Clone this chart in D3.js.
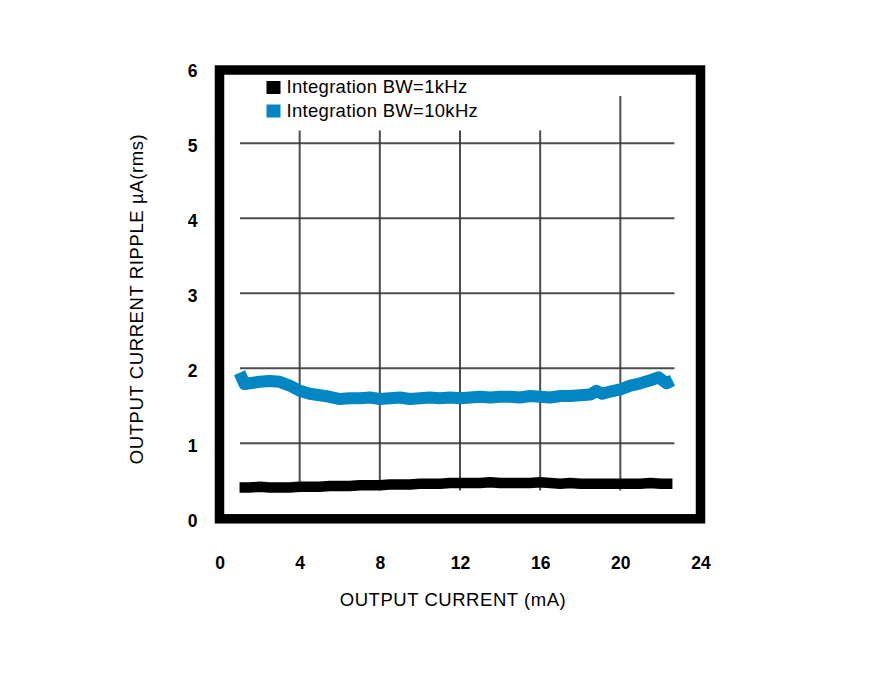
<!DOCTYPE html>
<html>
<head>
<meta charset="utf-8">
<script src="https://cdn.jsdelivr.net/npm/d3@7"></script>
<style>
  html, body { margin: 0; padding: 0; background: #fff; }
  svg { display: block; font-family: "Liberation Sans", Arial, sans-serif; }
</style>
</head>
<body>
<svg id="chart" width="872" height="691"></svg>
<script>
// ---- data ----
const xTicks = [0, 4, 8, 12, 16, 20, 24];
const yTicks = [0, 1, 2, 3, 4, 5, 6];
const xTitle = "OUTPUT CURRENT (mA)";
const yTitle = "OUTPUT CURRENT RIPPLE µA(rms)";
const seriesNames = ["Integration BW=1kHz", "Integration BW=10kHz"];
const seriesColors = ["#000000", "#0086c3"];

const currentX = [1.0, 1.5, 2.0, 2.5, 3.0, 3.5, 4.0, 4.5, 5.0, 5.5, 6.0, 6.5, 7.0, 7.5, 8.0, 8.5, 9.0, 9.5,
  10.0, 10.5, 11.0, 11.5, 12.0, 12.5, 13.0, 13.5, 14.0, 14.5, 15.0, 15.5, 16.0, 16.5, 17.0, 17.5, 18.0,
  18.5, 19.0, 19.5, 20.0, 20.5, 21.0, 21.5, 22.0, 22.6];

const ripple1k = [0.41, 0.41, 0.42, 0.41, 0.41, 0.41, 0.42, 0.42, 0.42, 0.43, 0.43, 0.43, 0.44, 0.44, 0.44,
  0.45, 0.45, 0.45, 0.46, 0.46, 0.46, 0.47, 0.47, 0.47, 0.47, 0.48, 0.47, 0.47, 0.47, 0.47, 0.48, 0.47,
  0.46, 0.47, 0.46, 0.46, 0.46, 0.46, 0.46, 0.46, 0.46, 0.47, 0.46, 0.46];

const xBlue = [1.0, 1.25, 1.5, 2.0, 2.5, 3.0, 3.5, 4.0, 4.5, 5.0, 5.5, 6.0, 6.5, 7.0, 7.5, 8.0, 8.5, 9.0, 9.5,
  10.0, 10.5, 11.0, 11.5, 12.0, 12.5, 13.0, 13.5, 14.0, 14.5, 15.0, 15.5, 16.0, 16.5, 17.0, 17.5, 18.0,
  18.5, 18.8, 19.1, 19.5, 20.0, 20.5, 21.0, 21.5, 21.9, 22.3, 22.6];
const ripple10k = [1.94, 1.79, 1.80, 1.82, 1.83, 1.82, 1.77, 1.70, 1.66, 1.64, 1.62, 1.59, 1.60, 1.60, 1.61,
  1.59, 1.60, 1.61, 1.59, 1.60, 1.61, 1.60, 1.61, 1.60, 1.61, 1.62, 1.61, 1.62, 1.62, 1.61, 1.63, 1.62,
  1.61, 1.63, 1.63, 1.64, 1.65, 1.70, 1.66, 1.69, 1.72, 1.77, 1.80, 1.84, 1.88, 1.80, 1.84];

// grid extents
const hGridX = [1.02, 22.7];
const vGridLines = [
  { x: 4, y0: 0.37, y1: 5.17 },
  { x: 8, y0: 0.37, y1: 5.17 },
  { x: 12, y0: 0.37, y1: 5.17 },
  { x: 16, y0: 0.37, y1: 5.17 },
  { x: 20, y0: 0.37, y1: 5.63 }
];

// ---- chart ----
const svg = d3.select("#chart");
const x = d3.scaleLinear().domain([0, 24]).range([219.5, 700.5]);
const y = d3.scaleLinear().domain([0, 6]).range([518.3, 68.3]);

// grid
const grid = svg.append("g").attr("stroke", "#3a3a3a").attr("stroke-width", 2).attr("stroke-opacity", 0.9);
yTicks.filter(v => v > 0 && v < 6).forEach(v => {
  grid.append("line").attr("x1", x(hGridX[0])).attr("x2", x(hGridX[1]))
    .attr("y1", y(v)).attr("y2", y(v));
});
vGridLines.forEach(g => {
  grid.append("line").attr("x1", x(g.x)).attr("x2", x(g.x))
    .attr("y1", y(g.y0)).attr("y2", y(g.y1));
});

// series
const line = d3.line().x(d => x(d[0])).y(d => y(d[1])).curve(d3.curveLinear);
svg.append("path")
  .datum(xBlue.map((v, i) => [v, ripple10k[i]]))
  .attr("d", line).attr("fill", "none").attr("stroke", seriesColors[1])
  .attr("stroke-width", 12).attr("stroke-linejoin", "round");
svg.append("path")
  .datum(currentX.map((v, i) => [v, ripple1k[i]]))
  .attr("d", line).attr("fill", "none").attr("stroke", seriesColors[0])
  .attr("stroke-width", 10.5).attr("stroke-linejoin", "round");

// frame
svg.append("rect")
  .attr("x", x(0)).attr("y", y(6) + 1.7)
  .attr("width", x(24) - x(0)).attr("height", y(0) - y(6) - 1.2)
  .attr("fill", "none").attr("stroke", "#000").attr("stroke-width", 9.5);

// axes (labels only)
const xAxis = d3.axisBottom(x).tickValues(xTicks).tickSize(0).tickPadding(0).tickFormat(d3.format("d"));
const gx = svg.append("g").attr("transform", "translate(0,557)").call(xAxis);
gx.select(".domain").remove();
gx.selectAll("text").attr("font-size", 17.5).attr("font-weight", "bold").attr("fill", "#000")
  .attr("font-family", "Liberation Sans, Arial, sans-serif");

const yAxis = d3.axisLeft(y).tickValues(yTicks).tickSize(0).tickPadding(0).tickFormat(d3.format("d"));
const gy = svg.append("g").attr("transform", "translate(197.5,2.5)").call(yAxis);
gy.select(".domain").remove();
gy.selectAll("text").attr("font-size", 17.5).attr("font-weight", "bold").attr("fill", "#000")
  .attr("font-family", "Liberation Sans, Arial, sans-serif");

// titles
svg.append("text").attr("x", 453).attr("y", 606).attr("text-anchor", "middle")
  .attr("font-size", 18.5).attr("letter-spacing", 0.55).attr("fill", "#000").text(xTitle);
svg.append("text").attr("transform", "translate(143,299) rotate(-90)").attr("text-anchor", "middle")
  .attr("font-size", 18.5).attr("letter-spacing", 0.6).attr("fill", "#000").text(yTitle);

// legend
const legend = svg.append("g");
seriesNames.forEach((name, i) => {
  const yy = 81 + i * 23.5;
  legend.append("rect").attr("x", 266.5).attr("y", yy).attr("width", 14).attr("height", 13)
    .attr("fill", seriesColors[i]);
  legend.append("text").attr("x", 286.5).attr("y", yy + 12.3).attr("font-size", 18.5)
    .attr("letter-spacing", 0.3).attr("fill", "#000").text(name);
});
</script>
</body>
</html>
